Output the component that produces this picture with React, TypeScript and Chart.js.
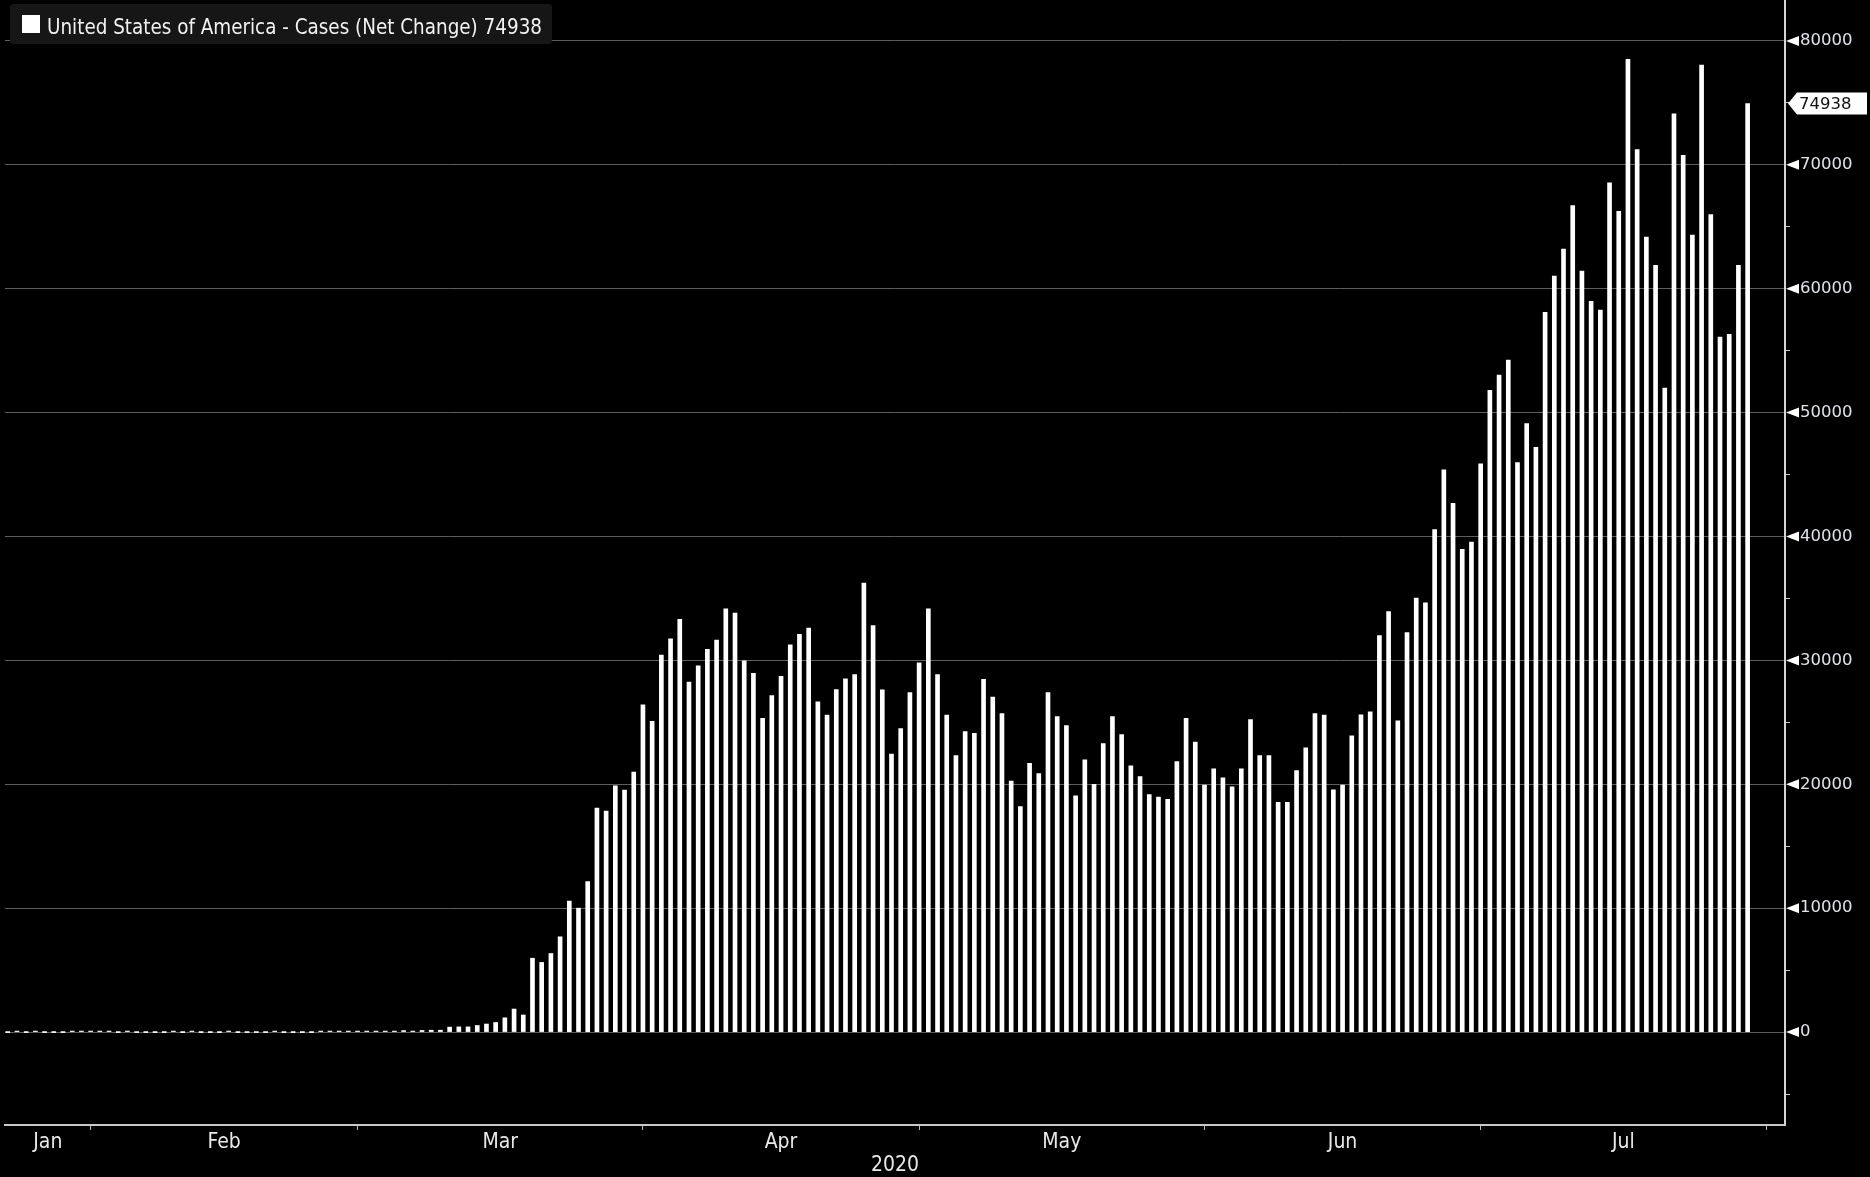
import React, { useEffect, useRef } from 'react';
import { Chart, registerables } from 'chart.js';

Chart.register(...registerables);

// ---------------- data ----------------
const seriesLabel = 'United States of America - Cases (Net Change)';
const firstDate = '2020-01-23'; // date of the first bar, one bar per day after it

const dailyCases: number[] = [
  // Jan 23 - Feb 26
  0, 1, 0, 3, 0,
  0, 0, 1, 1, 1,
  1, 3, 0, 1, 0,
  0, 0, 0, 1, 0,
  1, 0, 0, 0, 1,
  0, 0, 0, 0, 19,
  0, 0, 0, 0, 2,
  // Feb 27 - ...
  5, 10, 20, 12, 30,
  25, 20, 30, 120, 40,
  130, 150, 150, 400, 420,
  420, 530, 650, 775, 1150,
  1860, 1380, 5960, 5620, 6340,
  7690, 10570, 10000, 12150, 18070,
  17830, 19875, 19525, 20975, 26410,
  25090, 30420, 31740, 33320, 28240,
  29560, 30900, 31630, 34160, 33810,
  29960, 28960, 25330, 27160, 28720,
  31250, 32110, 32600, 26650, 25580,
  27650, 28510, 28860, 36230, 32800,
  27620, 22430, 24500, 27400, 29800,
  34170, 28860, 25580, 22320, 24260,
  24120, 28480, 27030, 25710, 20250,
  18200, 21700, 20870, 27400, 25470,
  24740, 19070, 21970, 20000, 23290,
  25470, 24020, 21490, 20630, 19170,
  18960, 18790, 21840, 25330, 23400,
  19930, 21250, 20520, 19790, 21250,
  25230, 22320, 22320, 18550, 18550,
  21110, 22940, 25710, 25580, 19550,
  19930, 23910, 25600, 25850, 32010,
  33940, 25120, 32240, 35030, 34650,
  40550, 45370, 42680, 38960, 39540,
  45860, 51800, 53020, 54230, 45970,
  49120, 47190, 58100, 61010, 63200,
  66700, 61430, 58980, 58280, 68550,
  66250, 78520, 71220, 64170, 61880,
  51980, 74110, 70770, 64320, 78040,
  65990, 56100, 56320, 61880, 74938,
];

const monthStarts = ['2020-02-01', '2020-03-01', '2020-04-01', '2020-05-01', '2020-06-01', '2020-07-01', '2020-08-01'];
const monthLabels = ['Jan', 'Feb', 'Mar', 'Apr', 'May', 'Jun', 'Jul'];
const yearLabel = '2020';
const yTickValues = [-5000, 0, 5000, 10000, 15000, 20000, 25000, 30000, 35000, 40000, 45000, 50000, 55000, 60000, 65000, 70000, 75000, 80000];
const yLabelStep = 10000;

// ---------------- helpers ----------------
const dayOfYear = (iso: string) => {
  const [y, m, d] = iso.split('-').map(Number);
  return (Date.UTC(y, m - 1, d) - Date.UTC(y, 0, 1)) / 86400000;
};

const NARROW = '"Liberation Sans Narrow", "Arial Narrow", "DejaVu Sans Condensed", "Liberation Sans", sans-serif';
const WIDE = '"DejaVu Sans", Verdana, sans-serif';

export default function App() {
  const ref = useRef<HTMLCanvasElement | null>(null);

  useEffect(() => {
    const canvas = ref.current;
    if (!canvas) return;

    const start = dayOfYear(firstDate);
    const points = dailyCases.map((v, i) => ({ x: start + i, y: v }));
    const bounds = monthStarts.map(dayOfYear);
    const X_MIN = 21.7;
    const X_MAX = 215.06;
    const edges = [X_MIN, ...bounds];
    const mids = monthLabels.map((_, i) => (edges[i] + edges[i + 1]) / 2);
    const labelAt = new Map<string, string>(mids.map((m, i) => [m.toFixed(3), monthLabels[i]]));
    const boundSet = new Set(bounds.map((b) => b.toFixed(3)));
    const xTicks = [...bounds, ...mids].sort((a, b) => a - b);
    const lastValue = dailyCases[dailyCases.length - 1];

    const overlay = {
      id: 'bbgOverlay',
      afterDraw(chart: any) {
        const { ctx, chartArea } = chart;
        const yScale = chart.scales.y;
        const axisX = chartArea.right;
        ctx.save();
        // arrow markers on major ticks
        ctx.fillStyle = '#ffffff';
        for (const v of yTickValues) {
          if (v % yLabelStep !== 0) continue;
          const y = yScale.getPixelForValue(v);
          ctx.beginPath();
          ctx.moveTo(axisX + 1, y);
          ctx.lineTo(axisX + 14, y - 5);
          ctx.lineTo(axisX + 14, y + 5);
          ctx.closePath();
          ctx.fill();
        }
        // last value tag
        const ty = yScale.getPixelForValue(lastValue);
        ctx.beginPath();
        ctx.moveTo(axisX + 3, ty);
        ctx.lineTo(axisX + 12, ty - 11);
        ctx.lineTo(chart.width - 3, ty - 11);
        ctx.lineTo(chart.width - 3, ty + 11);
        ctx.lineTo(axisX + 12, ty + 11);
        ctx.closePath();
        ctx.fillStyle = '#ffffff';
        ctx.fill();
        ctx.fillStyle = '#111111';
        ctx.font = `16.5px ${WIDE}`;
        ctx.textBaseline = 'middle';
        ctx.textAlign = 'left';
        ctx.fillText(String(lastValue), axisX + 14, ty + 1);

        // legend box
        ctx.fillStyle = '#161616';
        ctx.beginPath();
        (ctx as any).roundRect ? (ctx as any).roundRect(10, 4, 542, 40, 3) : ctx.rect(10, 4, 542, 40);
        ctx.fill();
        ctx.fillStyle = '#ffffff';
        ctx.fillRect(22, 15, 18, 18);
        const legendText = `${seriesLabel} ${lastValue}`;
        ctx.font = `21.5px ${NARROW}`;
        ctx.textBaseline = 'alphabetic';
        const w = ctx.measureText(legendText).width;
        const sx = 495 / w;
        ctx.translate(47, 33.5);
        ctx.scale(sx, 1);
        ctx.fillStyle = '#f2f2f2';
        ctx.fillText(legendText, 0, 0);
        ctx.restore();
      },
    };

    const chart = new Chart(canvas, {
      type: 'bar',
      data: {
        datasets: [
          {
            label: `${seriesLabel} ${lastValue}`,
            data: points as any,
            backgroundColor: '#ffffff',
            borderWidth: 0,
            barThickness: 4,
            minBarLength: 1,
          },
        ],
      },
      options: {
        responsive: false,
        animation: false,
        devicePixelRatio: 1,
        events: [],
        layout: { padding: { left: 5, right: 0, top: 0, bottom: 0 } },
        plugins: { legend: { display: false }, tooltip: { enabled: false } },
        scales: {
          x: {
            type: 'linear',
            position: 'bottom',
            min: X_MIN,
            max: X_MAX,
            offset: false,
            afterBuildTicks: (scale: any) => {
              scale.ticks = xTicks.map((v) => ({ value: v }));
            },
            afterFit: (scale: any) => {
              scale.height = 52;
              scale.paddingLeft = 0;
              scale.paddingRight = 0;
            },
            ticks: {
              autoSkip: false,
              maxRotation: 0,
              minRotation: 0,
              padding: 2,
              color: '#e8e8e8',
              font: { family: NARROW, size: 21, lineHeight: 1 },
              callback: (value: any) => labelAt.get(Number(value).toFixed(3)) ?? '',
            },
            grid: {
              offset: false,
              drawOnChartArea: false,
              drawTicks: true,
              tickLength: 5,
              tickWidth: 1,
              tickColor: (c: any) => (c.tick && boundSet.has(Number(c.tick.value).toFixed(3)) ? '#bdbdbd' : 'rgba(0,0,0,0)'),
            },
            border: { display: true, color: '#c8c8c8', width: 2 },
            title: {
              display: true,
              text: yearLabel,
              color: '#e8e8e8',
              font: { family: NARROW, size: 21, lineHeight: 1.05 },
              padding: { top: 0, bottom: 0 },
            },
          },
          y: {
            type: 'linear',
            position: 'right',
            min: -7500,
            max: 83300,
            afterBuildTicks: (scale: any) => {
              scale.ticks = yTickValues.map((v) => ({ value: v }));
            },
            afterFit: (scale: any) => {
              scale.width = 85;
              scale.paddingTop = 0;
              scale.paddingBottom = 0;
            },
            ticks: {
              padding: 10,
              color: '#dfe3e8',
              font: { family: WIDE, size: 16.5 },
              callback: (value: any) => (Number(value) % yLabelStep === 0 ? String(value) : ''),
            },
            grid: {
              drawOnChartArea: true,
              drawTicks: true,
              tickLength: 5,
              lineWidth: 1,
              color: (c: any) => (c.tick && c.tick.value % yLabelStep === 0 ? '#5e5e5e' : 'rgba(0,0,0,0)'),
              tickColor: (c: any) => (c.tick && c.tick.value % yLabelStep === 0 ? 'rgba(0,0,0,0)' : '#c8c8c8'),
            },
            border: { display: true, color: '#d4d4d4', width: 2 },
          },
        },
      },
      plugins: [overlay],
    } as any);

    return () => chart.destroy();
  }, []);

  return (
    <div style={{ position: 'fixed', left: 0, top: 0, width: 1870, height: 1177, background: '#000' }}>
      <canvas ref={ref} width={1870} height={1177} style={{ display: 'block', width: 1870, height: 1177 }} />
    </div>
  );
}
